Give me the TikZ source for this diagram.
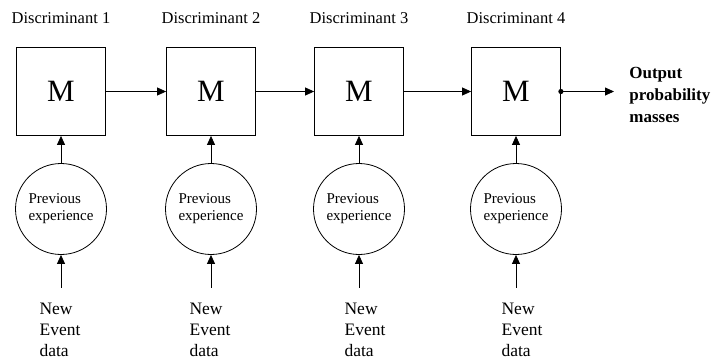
\documentclass[tikz,border=0pt]{standalone}
\usepackage{fontspec}
\setmainfont{Liberation Serif}
\usetikzlibrary{arrows.meta}
\begin{document}
\begin{tikzpicture}[x=1pt,y=-1pt,line width=0.8pt,
        >={Triangle[length=9pt,width=8pt]},
        mbox/.style={draw,minimum width=89pt,minimum height=88pt,inner sep=0pt,
            font=\fontsize{31}{31}\selectfont},
        expcircle/.style={draw,circle,minimum size=91pt,inner sep=0pt,align=left,
            font=\fontsize{15}{17}\selectfont},
        disclabel/.style={anchor=base,inner sep=0pt,font=\fontsize{16.5}{18}\selectfont},
        eventlabel/.style={align=left,inner sep=0pt,font=\fontsize{17.5}{21}\selectfont}]
    \useasboundingbox (0,0) rectangle (717,360);
    % discriminants
    \node[disclabel] (d1) at (61,23) {Discriminant 1};
    \node[disclabel] (d2) at (211,23) {Discriminant 2};
    \node[disclabel] (d3) at (359,23) {Discriminant 3};
    \node[disclabel] (d4) at (516,23) {Discriminant 4};
    \node[mbox] (m1) at (61,91.5) {M};
    \node[mbox] (m2) at (211,91.5) {M};
    \node[mbox] (m3) at (359,91.5) {M};
    \node[mbox] (m4) at (516,91.5) {M};
    % experience
    \node[expcircle] (p1) at (61,209) {Previous\\experience};
    \node[expcircle] (p2) at (211,209) {Previous\\experience};
    \node[expcircle] (p3) at (359,209) {Previous\\experience};
    \node[expcircle] (p4) at (516,209) {Previous\\experience};
    % new event data
    \node[eventlabel] (e1) at (60,330) {New\\Event\\data};
    \node[eventlabel] (e2) at (210,330) {New\\Event\\data};
    \node[eventlabel] (e3) at (365,330) {New\\Event\\data};
    \node[eventlabel] (e4) at (522,330) {New\\Event\\data};
    \node[anchor=west,align=left,inner sep=0pt,
        font=\bfseries\fontsize{17}{22}\selectfont] (out) at (629,95)
        {Output\\probability\\masses};
    \draw[->] (m1) -- (m2);
    \draw[->] (m2) -- (m3);
    \draw[->] (m3) -- (m4);
    \fill (m4.east) circle (2.6);
    \draw[->,shorten >=15pt] (m4.east) -- (m4.east -| out.west);
    \draw[->] (p1) -- (m1);
    \draw[->] (p2) -- (m2);
    \draw[->] (p3) -- (m3);
    \draw[->] (p4) -- (m4);
    \draw[->,shorten <=15pt] (e1.north -| p1) -- (p1);
    \draw[->,shorten <=15pt] (e2.north -| p2) -- (p2);
    \draw[->,shorten <=15pt] (e3.north -| p3) -- (p3);
    \draw[->,shorten <=15pt] (e4.north -| p4) -- (p4);
\end{tikzpicture}
\end{document}
